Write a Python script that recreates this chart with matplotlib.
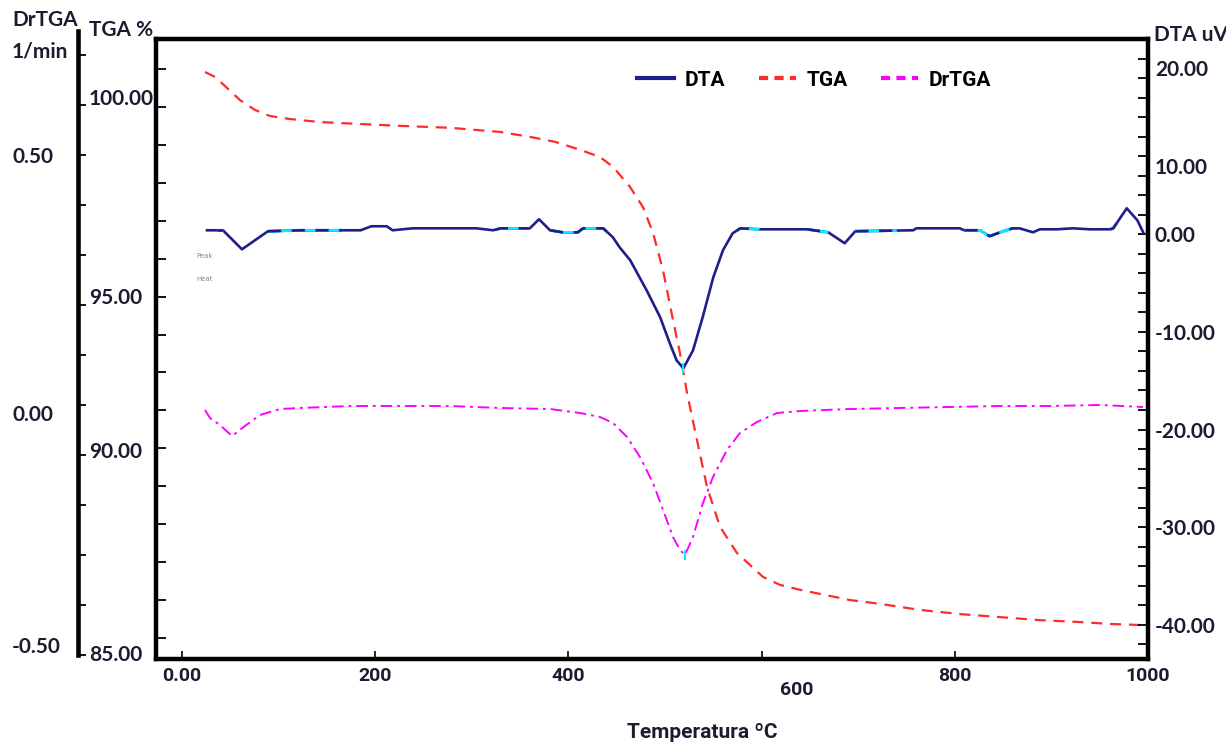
import matplotlib
matplotlib.use("Agg")
import matplotlib.pyplot as plt
import numpy as np
from matplotlib.lines import Line2D
from matplotlib.ticker import MultipleLocator
import matplotlib.transforms as mtransforms

# ---------------- data ----------------
dta_temp = [25.9, 42.4, 62.1, 89.0, 122, 153, 185, 196, 212, 218, 239, 305, 322, 330, 360,
            369.6, 381, 394, 410, 415, 436, 446, 453, 464, 481, 495, 505, 512, 519, 529,
            539, 550, 560, 570, 578, 598, 647, 669, 686, 697, 757, 760, 805, 810, 826,
            836, 850, 860, 867, 881, 888, 906, 922, 940, 961, 964, 978, 989, 995]
dta_val = [0.41, 0.41, -1.54, 0.31, 0.41, 0.41, 0.41, 0.82, 0.82, 0.41, 0.61, 0.61, 0.41, 0.61, 0.61,
           1.54, 0.41, 0.20, 0.20, 0.61, 0.61, -0.30, -1.33, -2.66, -5.74, -8.50, -11.17, -12.91, -13.73, -11.89,
           -8.50, -4.41, -1.64, 0.10, 0.61, 0.51, 0.51, 0.20, -0.92, 0.31, 0.41, 0.61, 0.61, 0.41, 0.41,
           -0.20, 0.31, 0.61, 0.61, 0.20, 0.51, 0.51, 0.61, 0.51, 0.51, 0.61, 2.66, 1.43, 0.20]

tga_temp = [23.8, 34.2, 44.5, 60.0, 75.6, 91.1, 111.8, 142.9, 184.3, 225.7, 277.4, 329.2, 360.2,
            386.1, 412.0, 432.7, 446.2, 463.8, 477.2, 487.6, 497.9, 508.3, 515.5, 522.8, 533.1,
            543.5, 557.0, 574.5, 601.4, 619.0, 639.8, 691.5, 722.6, 764.0, 805.4, 846.8, 888.2,
            929.6, 960.7, 994.8]
tga_val = [99.92, 99.79, 99.55, 99.18, 98.92, 98.76, 98.68, 98.60, 98.55, 98.50, 98.45, 98.34, 98.21,
           98.08, 97.87, 97.68, 97.42, 96.89, 96.36, 95.68, 94.70, 93.38, 92.51, 91.46, 90.22,
           88.98, 87.93, 87.24, 86.61, 86.40, 86.27, 86.00, 85.90, 85.74, 85.63, 85.55, 85.47,
           85.42, 85.37, 85.34]

drtga_temp = [23.8, 29.0, 39.3, 51.8, 65.2, 80.7, 101.4, 122.1, 173.9, 225.7, 277.4, 329.2, 381.0,
              412.0, 432.7, 446.2, 460.7, 474.1, 487.6, 498.0, 508.3, 515.5, 520.7, 529.0, 539.3,
              549.7, 564.2, 577.6, 595.2, 615.9, 639.8, 691.5, 743.3, 795.0, 846.8, 898.6, 950.3, 994.8]
drtga_val = [-0.010, -0.026, -0.040, -0.062, -0.042, -0.020, -0.008, -0.006, -0.002, -0.002, -0.002,
             -0.006, -0.008, -0.016, -0.024, -0.036, -0.064, -0.104, -0.156, -0.210, -0.264, -0.290,
             -0.300, -0.264, -0.196, -0.144, -0.090, -0.056, -0.034, -0.016, -0.012, -0.008, -0.006,
             -0.004, -0.002, -0.002, 0.000, -0.004]

# temperature ranges highlighted by the instrument's cyan baseline marks on DTA
dta_baseline_ranges = [(36, 42), (89, 166), (324, 360), (381, 440), (574, 598),
                       (647, 669), (697, 740), (810, 865), (961, 968)]

x_ticks = [0, 200, 400, 600, 800, 1000]
x_tick_labels = ["0.00", "200", "400", "600", "800", "1000"]
tga_ticks = [100, 95, 90, 85]
tga_tick_labels = ["100.00", "95.00", "90.00", "85.00"]
dta_ticks = [20, 10, 0, -10, -20, -30, -40]
dta_tick_labels = ["20.00", "10.00", "0.00", "-10.00", "-20.00", "-30.00", "-40.00"]
drtga_ticks = [0.5, 0.0, -0.5]
drtga_tick_labels = ["0.50", "0.00", "-0.50"]
series_names = ["DTA", "TGA", "DrTGA"]

# ---------------- style ----------------
C_DTA = "#1f1f8c"
C_TGA = "#ff2a2a"
C_DR = "#ff00ff"
C_CYAN = "#00f0ff"
C_TXT = "#1c1c30"
NARROW = ["Liberation Sans Narrow", "Roboto", "DejaVu Sans"]

fig = plt.figure(figsize=(12.26, 7.47), dpi=100)
W, H = 1226, 747
L, R, T, B = 156, 1148, 39, 659
ax = fig.add_axes([L / W, (H - B) / H, (R - L) / W, (B - T) / H])
ax_dta = ax.twinx()
ax_dr = ax.twinx()

ax.set_xlim(-26.9, 1000)
ax.set_ylim(84.446, 100.79)
ax_dta.set_ylim(-43.5, 20.0)
ax_dr.set_ylim(-0.508, 0.732)

# spines
for s in ["top", "bottom", "left"]:
    ax.spines[s].set_linewidth(3.2)
ax.spines["right"].set_visible(False)
for s in ["top", "bottom", "left"]:
    ax_dta.spines[s].set_visible(False)
ax_dta.spines["right"].set_linewidth(3.2)
for s in ["top", "bottom", "right"]:
    ax_dr.spines[s].set_visible(False)
ax_dr.spines["left"].set_visible(True)
ax_dr.spines["left"].set_position(("outward", (L - 78) * 0.72))
ax_dr.spines["left"].set_linewidth(3.3)
ax_dr.spines["left"].set_bounds(-0.5, 0.748)
ax_dr.yaxis.set_ticks_position("left")
ax_dr.yaxis.set_label_position("left")

# curves
dta_t = np.array(dta_temp)
dta_v = np.array(dta_val)
ax_dta.plot(dta_t, dta_v, color=C_DTA, lw=1.9, zorder=3)
for a, b in dta_baseline_ranges:
    tt = np.linspace(a, b, 30)
    vv = np.interp(tt, dta_t, dta_v)
    ax_dta.plot(tt, vv, color=C_CYAN, lw=1.9, zorder=4, solid_capstyle="butt")
    ax_dta.plot(tt, vv, color=C_DTA, lw=1.9, zorder=5, dashes=(5, 4))
imin = int(np.argmin(dta_v))
ax_dta.plot([dta_t[imin]], [dta_v[imin]], marker="|", color=C_CYAN, ms=7, mew=1.5, zorder=6)

ax.plot(tga_temp, tga_val, color=C_TGA, lw=1.6, dashes=(5, 3.5), zorder=3)
ax_dr.plot(drtga_temp, drtga_val, color=C_DR, lw=1.4, dashes=(6, 2.5, 1.5, 2.5), zorder=3)
jmin = int(np.argmin(drtga_val))
ax_dr.plot([drtga_temp[jmin]], [drtga_val[jmin]], marker="|", color=C_CYAN, ms=7, mew=1.5, zorder=6)

# ticks
ax.set_xticks(x_ticks, x_tick_labels)
ax.tick_params(axis="x", direction="in", length=6, width=1.2, pad=6, labelsize=14,
               labelcolor=C_TXT)
for lbl in ax.get_xticklabels():
    lbl.set_fontfamily(NARROW)
    lbl.set_fontweight("bold")

ax.set_yticks(tga_ticks, tga_tick_labels)
ax.yaxis.set_minor_locator(MultipleLocator(1))
ax.tick_params(axis="y", which="both", direction="in", length=7, width=1.3,
               pad=(L - 89) * 0.72, labelsize=15, labelcolor=C_TXT)
for lbl in ax.get_yticklabels():
    lbl.set_ha("left")
    lbl.set_fontweight("bold")
    lbl.set_fontfamily(["Lato", "DejaVu Sans"])

ax_dta.set_yticks(dta_ticks, dta_tick_labels)
ax_dta.yaxis.set_minor_locator(MultipleLocator(2))
ax_dta.tick_params(axis="y", which="both", direction="in", length=7, width=1.3,
                   pad=5, labelsize=15, labelcolor=C_TXT)
for lbl in ax_dta.get_yticklabels():
    lbl.set_fontweight("bold")
    lbl.set_fontfamily(["Lato", "DejaVu Sans"])

ax_dr.set_yticks(drtga_ticks, drtga_tick_labels)
ax_dr.yaxis.set_minor_locator(MultipleLocator(0.1))
ax_dr.tick_params(axis="y", which="both", direction="in", length=6, width=1.3,
                  pad=(78 - 12) * 0.72, labelsize=15, labelcolor=C_TXT)
for lbl in ax_dr.get_yticklabels():
    lbl.set_ha("left")
    lbl.set_fontweight("bold")
    lbl.set_fontfamily(["Lato", "DejaVu Sans"])


def shift_label(axis_obj, idx, dx_px, dy_px):
    tick = axis_obj.get_major_ticks()[idx]
    off = mtransforms.ScaledTranslation(dx_px / 100, -dy_px / 100, fig.dpi_scale_trans)
    for lbl in (tick.label1, tick.label2):
        lbl.set_transform(lbl.get_transform() + off)


# label placements as printed on the original instrument chart
shift_label(ax.xaxis, 3, 35, 14)
shift_label(ax.yaxis, 0, 0, 28)
shift_label(ax.yaxis, 1, 0, 37)
shift_label(ax.yaxis, 2, 0, 2)
shift_label(ax.yaxis, 3, 0, 15)
shift_label(ax_dta.yaxis, 0, 0, 29)
shift_label(ax_dta.yaxis, 1, 0, 29)
shift_label(ax_dr.yaxis, 1, 0, 8)
shift_label(ax_dr.yaxis, 2, 0, -10)

# axis titles
lab_kw = dict(fontsize=15, fontweight="bold", color=C_TXT, family=["Lato", "DejaVu Sans"])
fig.text(12 / W, 1 - 20 / H, "DrTGA", ha="left", va="center", **lab_kw)
fig.text(12 / W, 1 - 52 / H, "1/min", ha="left", va="center", **lab_kw)
fig.text(89 / W, 1 - 30 / H, "TGA %", ha="left", va="center", **lab_kw)
fig.text(1154 / W, 1 - 35 / H, "DTA uV", ha="left", va="center", **lab_kw)
fig.text(702 / W, 1 - 733 / H, "Temperatura ºC", ha="center", va="center",
         fontsize=15, fontweight="bold", color=C_TXT, family=NARROW)

fig.text(196 / W, 1 - 256 / H, "Peak", fontsize=5, color="#8a8a8a", va="center")
fig.text(196 / W, 1 - 279 / H, "Heat", fontsize=5, color="#8a8a8a", va="center")

# legend
handles = [Line2D([], [], color=C_DTA, lw=3),
           Line2D([], [], color=C_TGA, lw=3, dashes=(2.2, 1.5)),
           Line2D([], [], color=C_DR, lw=3, dashes=(2.2, 1.5))]
leg = ax_dr.legend(handles, series_names, ncol=3, loc="center",
                   bbox_to_anchor=((814 - L) / (R - L), (B - 80) / (B - T)),
                   frameon=False, handlelength=1.8, handletextpad=0.5, columnspacing=1.6,
                   prop=dict(family=NARROW, weight="bold", size=15))

fig.savefig("out.png", dpi=100)
